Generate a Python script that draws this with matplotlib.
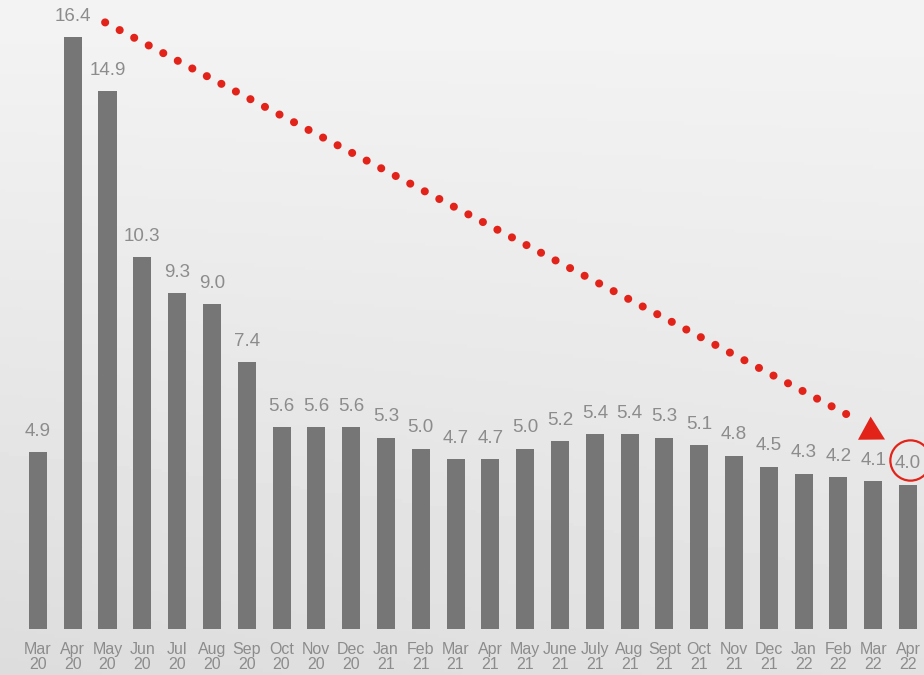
"""Monthly bar chart with a red dotted downward-trend arrow."""

import matplotlib.pyplot as plt
import numpy as np

plt.rcParams["font.family"] = ["Liberation Sans", "DejaVu Sans"]

months = ["Mar", "Apr", "May", "Jun", "Jul", "Aug", "Sep", "Oct", "Nov", "Dec",
          "Jan", "Feb", "Mar", "Apr", "May", "June", "July", "Aug", "Sept", "Oct",
          "Nov", "Dec", "Jan", "Feb", "Mar", "Apr"]
years = ["20"] * 10 + ["21"] * 12 + ["22"] * 4
values = [4.9, 16.4, 14.9, 10.3, 9.3, 9.0, 7.4, 5.6, 5.6, 5.6,
          5.3, 5.0, 4.7, 4.7, 5.0, 5.2, 5.4, 5.4, 5.3, 5.1,
          4.8, 4.5, 4.3, 4.2, 4.1, 4.0]

BAR = "#767676"
LABEL = "#8c8c8c"
RED = "#e2231a"

fig = plt.figure(figsize=(9.24, 6.75), dpi=100)

# light grey gradient background
bg = fig.add_axes([0, 0, 1, 1], zorder=0)
yy, xx = np.mgrid[0:1:200j, 0:1:200j]
shade = 0.955 - 0.07 * yy - 0.02 * (1 - xx) * yy
bg.imshow(shade, cmap="gray", vmin=0, vmax=1, aspect="auto", extent=[0, 1, 0, 1])
bg.axis("off")

ax = fig.add_axes([0, 0.068, 1, 0.932], zorder=1)
ax.patch.set_alpha(0)
x = np.arange(len(values))
ax.bar(x, values, width=0.52, color=BAR)

for xi, v in zip(x, values):
    ax.annotate(f"{v:.1f}", (xi, v), xytext=(0, 15), textcoords="offset points",
                ha="center", va="center", fontsize=13.5, color=LABEL)

ax.set_xlim(-1.09, 25.46)
ax.set_ylim(0, 17.42)
ax.set_xticks(x)
ax.set_xticklabels([f"{m}\n{y}" for m, y in zip(months, years)],
                   fontsize=11.5, color=LABEL, linespacing=1.05)
ax.tick_params(axis="x", length=0, pad=9)
ax.set_yticks([])
for s in ax.spines.values():
    s.set_visible(False)

# dotted trend arrow
start = (1.93, 16.8)
tip = (24.34, 5.25)
line_end = (23.53, 5.8)
ax.plot([start[0], line_end[0]], [start[1], line_end[1]], color=RED, lw=5.8,
        linestyle=(0, (0.01, 2.03)), dash_capstyle="round", clip_on=False)
ax.annotate("", xy=tip, xytext=(23.6, 5.64),
            arrowprops=dict(arrowstyle="-|>,head_length=1.7,head_width=0.95",
                            color=RED, lw=0, mutation_scale=10, shrinkA=0, shrinkB=0))

# circle around the latest value
ax.plot(x[-1] + 0.05, values[-1] + 0.68, "o", ms=29, mfc="none", mec=RED, mew=1.6,
        clip_on=False)

fig.savefig("out.png", dpi=100)
